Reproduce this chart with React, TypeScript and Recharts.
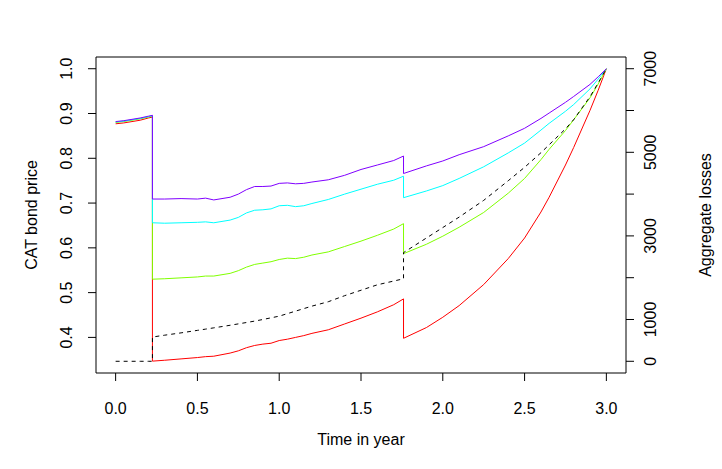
import { Line, LineChart, ReferenceArea, XAxis, YAxis } from "recharts";

// time points (years); repeated values are the jump instants
const times = [
  0, 0.05, 0.1, 0.15, 0.2, 0.225,
  0.225, 0.3, 0.4, 0.5, 0.55, 0.6, 0.7, 0.75, 0.8, 0.85, 0.9, 0.95, 1.0, 1.05,
  1.1, 1.15, 1.2, 1.3, 1.4, 1.5, 1.6, 1.7, 1.76,
  1.76, 1.9, 2.0, 2.1, 2.25, 2.4, 2.5, 2.6, 2.65, 2.75, 2.8, 2.9, 2.95, 3.0,
];

const red = [
  0.877, 0.879, 0.882, 0.885, 0.89, 0.892,
  0.347, 0.349, 0.352, 0.355, 0.357, 0.358, 0.365, 0.37, 0.377, 0.382, 0.385, 0.387, 0.393, 0.396,
  0.4, 0.404, 0.409, 0.417, 0.43, 0.443, 0.457, 0.473, 0.486,
  0.398, 0.422, 0.445, 0.471, 0.518, 0.576, 0.622, 0.68, 0.713, 0.785, 0.824, 0.907, 0.952, 1.0,
];

const green = [
  0.88, 0.882, 0.885, 0.888, 0.892, 0.894,
  0.53, 0.531, 0.533, 0.535, 0.537, 0.537, 0.543, 0.549, 0.557, 0.563, 0.566, 0.569, 0.574, 0.577,
  0.576, 0.579, 0.584, 0.591, 0.603, 0.615, 0.628, 0.642, 0.654,
  0.587, 0.608, 0.626, 0.646, 0.679, 0.722, 0.755, 0.797, 0.82, 0.862, 0.886, 0.935, 0.966, 1.0,
];

const cyan = [
  0.881, 0.883, 0.886, 0.889, 0.893, 0.895,
  0.656, 0.655, 0.656, 0.657, 0.658, 0.656, 0.662, 0.668, 0.678, 0.684, 0.685, 0.687, 0.694, 0.695,
  0.692, 0.694, 0.699, 0.708, 0.72, 0.731, 0.742, 0.751, 0.76,
  0.712, 0.727, 0.739, 0.755, 0.781, 0.812, 0.834, 0.863, 0.878, 0.905, 0.92, 0.955, 0.977, 1.0,
];

const purple = [
  0.882, 0.884, 0.887, 0.89, 0.894, 0.896,
  0.709, 0.709, 0.71, 0.709, 0.711, 0.707, 0.713, 0.72, 0.73, 0.737, 0.737, 0.738, 0.744, 0.745,
  0.743, 0.744, 0.747, 0.752, 0.762, 0.775, 0.785, 0.795, 0.805,
  0.766, 0.783, 0.794, 0.808, 0.826, 0.85, 0.867, 0.889, 0.901, 0.925, 0.938, 0.965, 0.982, 1.0,
];

const losses = [
  0, 0, 0, 0, 0, 0,
  580, 625, 680, 740, 770, 800, 862, 895, 928, 962, 1000, 1040, 1080, 1140,
  1200, 1260, 1320, 1425, 1570, 1700, 1830, 1920, 1974,
  2600, 2950, 3200, 3450, 3850, 4320, 4640, 4990, 5180, 5560, 5780, 6330, 6660, 7000,
];

const timeTicks = [0, 0.5, 1, 1.5, 2, 2.5, 3];
const priceTicks = [0.4, 0.5, 0.6, 0.7, 0.8, 0.9, 1.0];
const lossTicks = [0, 1000, 2000, 3000, 4000, 5000, 6000, 7000];
const lossLabels = [0, 1000, 3000, 5000, 7000];

const data = times.map((t, i) => ({
  t,
  red: red[i],
  green: green[i],
  cyan: cyan[i],
  purple: purple[i],
  loss: losses[i],
}));

const FONT = "'Liberation Sans', Arial, Helvetica, sans-serif";
const FS = 16;
const X_DOMAIN: [number, number] = [-0.12, 3.12];
const P_DOMAIN: [number, number] = [0.3205, 1.0262];
const L_DOMAIN: [number, number] = [-280, 7280];

function XTick({ x, y, payload }: any) {
  return (
    <text x={x} y={y} textAnchor="middle" dominantBaseline="central" fontSize={FS} fontFamily={FONT} fill="#000">
      {payload.value.toFixed(1)}
    </text>
  );
}

function PriceTick({ x, y, payload }: any) {
  return (
    <text
      x={x}
      y={y}
      transform={`rotate(-90, ${x}, ${y})`}
      textAnchor="middle"
      dominantBaseline="central"
      fontSize={FS}
      fontFamily={FONT}
      fill="#000"
    >
      {payload.value.toFixed(1)}
    </text>
  );
}

function LossTick({ x, y, payload }: any) {
  if (!lossLabels.includes(payload.value)) return <g />;
  return (
    <text
      x={x}
      y={y}
      transform={`rotate(-90, ${x}, ${y})`}
      textAnchor="middle"
      dominantBaseline="central"
      fontSize={FS}
      fontFamily={FONT}
      fill="#000"
    >
      {payload.value}
    </text>
  );
}

function title(text: string, x: number, y: number, angle = 0) {
  return () => (
    <text
      x={x}
      y={y}
      transform={angle ? `rotate(${angle}, ${x}, ${y})` : undefined}
      textAnchor="middle"
      dominantBaseline="central"
      fontSize={FS}
      fontFamily={FONT}
      fill="#000"
    >
      {text}
    </text>
  );
}

export default function App() {
  return (
    <div style={{ position: "absolute", left: 0, top: 0, width: 722, height: 469, background: "#fff" }}>
      <LineChart width={722} height={469} data={data} margin={{ top: 57, right: 0, bottom: 0, left: 0 }}>
        <XAxis
          dataKey="t"
          type="number"
          domain={X_DOMAIN}
          ticks={timeTicks}
          height={96}
          axisLine={false}
          tickLine={{ stroke: "#000" }}
          tickSize={8}
          tickMargin={27}
          tick={<XTick />}
          label={title("Time in year", 361, 439)}
        />
        <YAxis
          yAxisId="p"
          type="number"
          domain={P_DOMAIN}
          ticks={priceTicks}
          width={96}
          axisLine={false}
          tickLine={{ stroke: "#000" }}
          tickSize={8}
          tickMargin={21}
          tick={<PriceTick />}
          label={title("CAT bond price", 31, 215, -90)}
        />
        <YAxis
          yAxisId="l"
          orientation="right"
          type="number"
          domain={L_DOMAIN}
          ticks={lossTicks}
          width={96}
          axisLine={false}
          tickLine={{ stroke: "#000" }}
          tickSize={8}
          tickMargin={17}
          tick={<LossTick />}
          label={title("Aggregate losses", 705, 215, -90)}
        />
        <Line yAxisId="p" dataKey="red" type="linear" stroke="#FF0000" strokeWidth={1} dot={false} isAnimationActive={false} />
        <Line yAxisId="p" dataKey="green" type="linear" stroke="#80FF00" strokeWidth={1} dot={false} isAnimationActive={false} />
        <Line yAxisId="p" dataKey="cyan" type="linear" stroke="#00FFFF" strokeWidth={1} dot={false} isAnimationActive={false} />
        <Line yAxisId="p" dataKey="purple" type="linear" stroke="#8000FF" strokeWidth={1} dot={false} isAnimationActive={false} />
        <Line
          yAxisId="l"
          dataKey="loss"
          type="linear"
          stroke="#000"
          strokeWidth={1}
          strokeDasharray="4 4"
          dot={false}
          isAnimationActive={false}
        />
        <ReferenceArea
          yAxisId="p"
          x1={X_DOMAIN[0]}
          x2={X_DOMAIN[1]}
          y1={P_DOMAIN[0]}
          y2={P_DOMAIN[1]}
          fill="none"
          stroke="#000"
          strokeWidth={1}
          ifOverflow="visible"
        />
      </LineChart>
    </div>
  );
}
